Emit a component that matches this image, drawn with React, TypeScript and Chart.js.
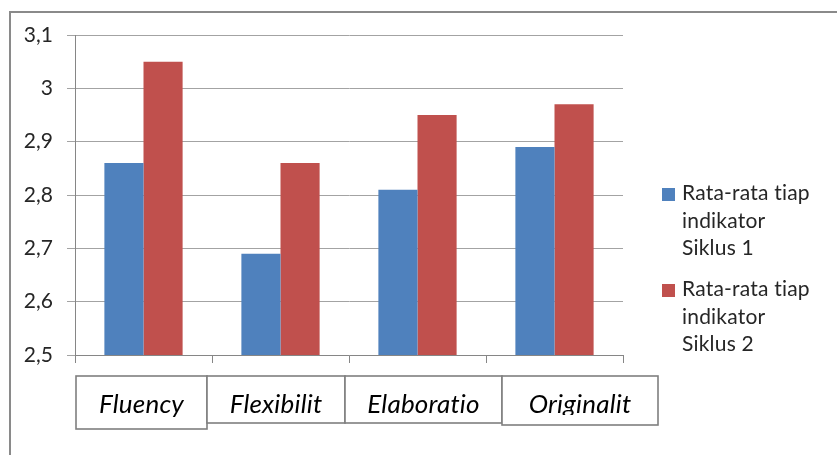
import { useEffect, useRef } from "react";
import { Chart, registerables, type Plugin } from "chart.js";

Chart.register(...registerables);

const categories = ["Fluency", "Flexibilit", "Elaboratio", "Originalit"];
const siklus1 = [2.86, 2.69, 2.81, 2.89];
const siklus2 = [3.05, 2.86, 2.95, 2.97];
const seriesLabels = [
  "Rata-rata tiap indikator Siklus 1",
  "Rata-rata tiap indikator Siklus 2",
];
const yTicks = [2.5, 2.6, 2.7, 2.8, 2.9, 3.0, 3.1];

const BLUE = "#4F81BD";
const RED = "#C0504D";
const TEXT = "#262626";
const GRID = "#a3a3a3";
const AXIS = "#868686";

// the category names sit in text boxes pasted over the chart, a bit off the category bounds
const BOX_EDGE_SHIFT = [1, -5, -4, 16, 35]; // px, per boundary
const BOX_BOTTOM = [74, 68, 68, 70]; // px below the axis line
const TEXT_CLIP = [74, 68, 68, 60];

const fmt = (v: number) => v.toFixed(1).replace(/\.0$/, "").replace(".", ",");

function wrap(ctx: CanvasRenderingContext2D, text: string, max: number) {
  const lines: string[] = [];
  let cur = "";
  for (const w of text.split(" ")) {
    const next = cur ? cur + " " + w : w;
    if (cur && ctx.measureText(next).width > max) {
      lines.push(cur);
      cur = w;
    } else cur = next;
  }
  if (cur) lines.push(cur);
  return lines;
}

const framePlugin: Plugin<"bar"> = {
  id: "frame",
  beforeDraw(chart) {
    const { ctx } = chart;
    ctx.save();
    ctx.strokeStyle = "#8a8a8a";
    ctx.lineWidth = 2;
    ctx.strokeRect(10, 12, 1000, 1000);
    ctx.restore();
  },
};

const labelBoxPlugin: Plugin<"bar"> = {
  id: "labelBoxes",
  afterDraw(chart) {
    const { ctx } = chart;
    const x = chart.scales.x;
    const axisY = chart.chartArea.bottom;
    const half = (x.right - x.left) / categories.length / 2;
    ctx.save();
    categories.forEach((name, i) => {
      const c = x.getPixelForValue(i);
      const l = c - half + BOX_EDGE_SHIFT[i];
      const r = c + half + BOX_EDGE_SHIFT[i + 1];
      const top = axisY + 21;
      const bot = axisY + BOX_BOTTOM[i];
      ctx.fillStyle = "#fff";
      ctx.fillRect(l, top, r - l, bot - top);
      ctx.strokeStyle = "#7f7f7f";
      ctx.lineWidth = 1.6;
      ctx.strokeRect(l, top, r - l, bot - top);
      ctx.save();
      ctx.beginPath();
      ctx.rect(l + 1, top + 1, r - l - 2, axisY + TEXT_CLIP[i] - top - 1);
      ctx.clip();
      ctx.fillStyle = "#000";
      ctx.font = "italic 26px Lato";
      (ctx as any).letterSpacing = "0.2px";
      ctx.textAlign = "center";
      ctx.textBaseline = "alphabetic";
      ctx.fillText(name, (l + r) / 2, axisY + 58);
      ctx.restore();
    });
    ctx.restore();
  },
};

const legendPlugin: Plugin<"bar"> = {
  id: "sideLegend",
  afterDraw(chart) {
    const { ctx } = chart;
    const lx = chart.chartArea.right + 39;
    let y = 188;
    ctx.save();
    ctx.font = "21px Lato";
    (ctx as any).letterSpacing = "0.2px";
    ctx.textBaseline = "alphabetic";
    chart.data.datasets.forEach((ds) => {
      ctx.fillStyle = ds.backgroundColor as string;
      ctx.fillRect(lx, y, 13, 13);
      const lines = wrap(ctx, String(ds.label ?? ""), 140);
      ctx.fillStyle = TEXT;
      lines.forEach((ln, i) => ctx.fillText(ln, lx + 20, y + 12 + i * 27.5));
      y += lines.length * 27.5 + 13.5;
    });
    ctx.restore();
  },
};

export default function App() {
  const ref = useRef<HTMLCanvasElement | null>(null);
  const chartRef = useRef<Chart | null>(null);

  useEffect(() => {
    document.body.style.margin = "0";
    if (!ref.current) return;
    chartRef.current?.destroy();
    chartRef.current = new Chart(ref.current, {
      type: "bar",
      data: {
        labels: categories,
        datasets: [
          { label: seriesLabels[0], data: siklus1, backgroundColor: BLUE, categoryPercentage: 0.571, barPercentage: 1 },
          { label: seriesLabels[1], data: siklus2, backgroundColor: RED, categoryPercentage: 0.571, barPercentage: 1 },
        ],
      },
      options: {
        animation: false,
        responsive: true,
        maintainAspectRatio: false,
        layout: { padding: { top: 35, right: 214, left: 0, bottom: 0 } },
        plugins: { legend: { display: false }, tooltip: { enabled: false } },
        scales: {
          x: {
            grid: { display: true, drawOnChartArea: false, drawTicks: true, tickLength: 8, color: AXIS, offset: true },
            border: { color: AXIS },
            ticks: { display: false },
            afterFit: (s) => { s.height = 100; },
          },
          y: {
            min: 2.5,
            max: 3.1,
            grid: { color: GRID, tickLength: 8 },
            border: { color: AXIS },
            afterBuildTicks: (s) => { s.ticks = yTicks.map((v) => ({ value: v })); },
            afterFit: (s) => { s.width = 75; },
            ticks: {
              padding: 14,
              color: TEXT,
              font: { family: "Lato", size: 21 },
              callback: (v) => fmt(Number(v)),
            },
          },
        },
      },
      plugins: [framePlugin, labelBoxPlugin, legendPlugin],
    });
    return () => chartRef.current?.destroy();
  }, []);

  return (
    <div style={{ position: "relative", width: 837, height: 455, background: "#fff" }}>
      <canvas ref={ref} />
    </div>
  );
}
